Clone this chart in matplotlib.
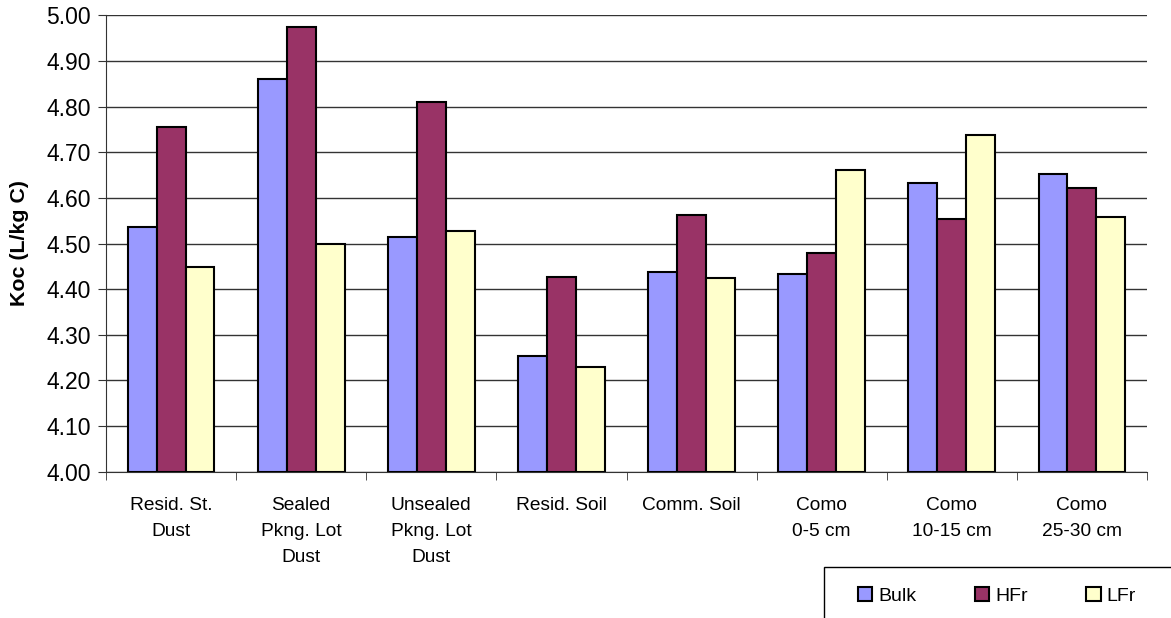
import numpy as np
import matplotlib
matplotlib.use("Agg")
import matplotlib.pyplot as plt
from matplotlib.patches import Rectangle

# Koc values per sample type and fraction
categories = ["Resid. St.\nDust", "Sealed\nPkng. Lot\nDust", "Unsealed\nPkng. Lot\nDust",
              "Resid. Soil", "Comm. Soil", "Como\n0-5 cm", "Como\n10-15 cm", "Como\n25-30 cm"]
bulk = [4.536, 4.860, 4.514, 4.253, 4.437, 4.433, 4.633, 4.652]
hfr = [4.756, 4.974, 4.810, 4.427, 4.562, 4.480, 4.554, 4.622]
lfr = [4.448, 4.500, 4.527, 4.229, 4.424, 4.660, 4.737, 4.558]
series = [("Bulk", bulk, "#9999FF"), ("HFr", hfr, "#993366"), ("LFr", lfr, "#FFFFCC")]
yticks = np.arange(4.0, 5.001, 0.1)

plt.rcParams["font.family"] = ["Liberation Sans", "DejaVu Sans"]
plt.rcParams["font.size"] = 13.8

fig = plt.figure(figsize=(11.71, 6.18), dpi=100)
ax = fig.add_axes([106 / 1171, 1 - 471.7 / 618, (1147 - 106) / 1171, (471.7 - 15.3) / 618])

x = np.arange(len(categories))
w = 0.222
for i, (name, vals, col) in enumerate(series):
    ax.bar(x + (i - 1) * w, np.array(vals) - 4.0, bottom=4.0, width=w, color=col,
           edgecolor="black", linewidth=1.5, label=name, zorder=3)

ax.set_xlim(-0.5, len(categories) - 0.5)
ax.set_ylim(4.0, 5.0)
ax.set_yticks(yticks)
ax.set_yticklabels([f"{v:.2f}" for v in yticks], fontsize=16.5)
ax.yaxis.grid(True, color="#333333", linewidth=1.0, zorder=0)

# category labels centred, tick marks on the boundaries
ax.set_xticks(x)
ax.set_xticklabels(categories, linespacing=1.72)
ax.tick_params(axis="x", length=0, pad=18)
ax.set_xticks(np.arange(-0.5, len(categories)), minor=True)
ax.tick_params(axis="x", which="minor", length=6, color="#333333", direction="out")
ax.tick_params(axis="y", length=6, color="#333333", direction="out", pad=5)

for s in ["top", "right"]:
    ax.spines[s].set_visible(False)
ax.spines["left"].set_color("#333333")
ax.spines["bottom"].set_color("#333333")

ax.set_ylabel("Koc (L/kg C)", fontweight="bold", fontsize=15.4)
ax.yaxis.set_label_coords(-(106 - 29) / 1041, (471.7 - 243) / 456.4)

# legend box running off the lower right corner
fig.patches.append(Rectangle((824 / 1171, -0.1), 0.5, 1 - 567.3 / 618 + 0.1,
                             transform=fig.transFigure, facecolor="white",
                             edgecolor="black", linewidth=1.0, clip_on=False))
handles, labels = ax.get_legend_handles_labels()
leg = fig.legend(handles, labels, loc="center left", ncol=3,
                 bbox_to_anchor=(850 / 1171, 1 - 596 / 618), frameon=False,
                 fontsize=14, handlelength=0.75, handleheight=0.75, handletextpad=0.3,
                 columnspacing=3.0, borderaxespad=0)

fig.savefig("out.png", dpi=100)
